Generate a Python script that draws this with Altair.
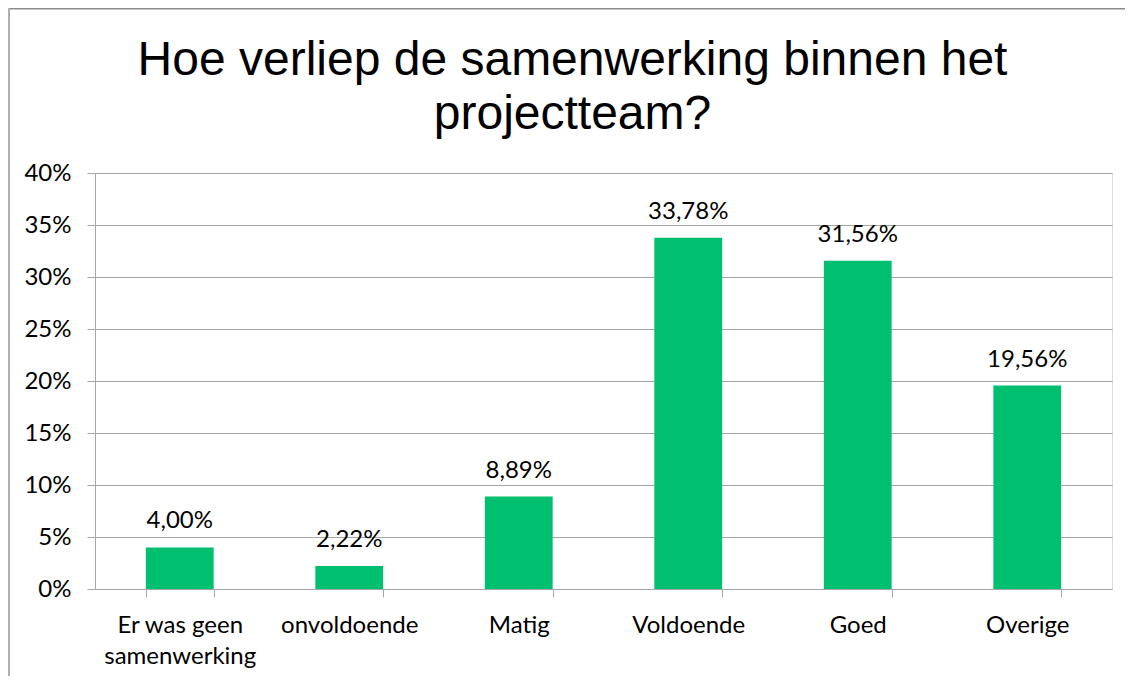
import altair as alt
import pandas as pd

categories = ["Er was geen samenwerking", "onvoldoende", "Matig", "Voldoende", "Goed", "Overige"]
values = [0.0400, 0.0222, 0.0889, 0.3378, 0.3156, 0.1956]
y_ticks = [0, 0.05, 0.10, 0.15, 0.20, 0.25, 0.30, 0.35, 0.40]

df = pd.DataFrame({"cat": categories, "val": values})

W, H = 1017, 416
PAD_L, PAD_T, PAD_R, PAD_B = 87, 165, 13, 87

LABEL_FONT = "Lato"
GRAY = "#A6A6A6"

x_enc = alt.X(
    "cat:N",
    sort=categories,
    scale=alt.Scale(paddingInner=0.6, paddingOuter=0.3),
    axis=alt.Axis(
        title=None,
        labelAngle=0,
        labelFont=LABEL_FONT,
        labelFontSize=24,
        labelColor="#000000",
        labelPadding=16,
        labelLineHeight=31,
        labelExpr="datum.label == 'Er was geen samenwerking' ? ['Er was geen', 'samenwerking'] : datum.label",
        tickBand="extent",
        tickSize=8,
        tickColor=GRAY,
        domainColor=GRAY,
        grid=False,
    ),
)
y_enc = alt.Y(
    "val:Q",
    scale=alt.Scale(domain=[0, 0.4], nice=False),
    axis=alt.Axis(
        title=None,
        values=y_ticks,
        format=".0%",
        labelFont=LABEL_FONT,
        labelFontSize=24,
        labelColor="#000000",
        labelPadding=16,
        tickSize=8,
        tickColor=GRAY,
        domainColor=GRAY,
        gridColor=GRAY,
        gridWidth=1,
    ),
)

bars = alt.Chart(df).mark_bar(color="#00BF6F").encode(x=x_enc, y=y_enc)

labels = alt.Chart(df).mark_text(
    font=LABEL_FONT, fontSize=24, color="#000000", baseline="alphabetic", dy=-19
).encode(
    x=alt.X("cat:N", sort=categories),
    y="val:Q",
    text=alt.Text("val:Q", format=".2%"),
)

frame_df = pd.DataFrame({"k": [0]})
frame_top = alt.Chart(frame_df).mark_rule(color="#8C8C8C", strokeWidth=1.5).encode(
    x=alt.value(-PAD_L + 0.5), x2=alt.value(W + PAD_R), y=alt.value(-PAD_T + 0.75)
)
frame_left = alt.Chart(frame_df).mark_rule(color="#B0B0B0", strokeWidth=2).encode(
    x=alt.value(-PAD_L + 1), y=alt.value(-PAD_T), y2=alt.value(H + PAD_B)
)

chart = (
    alt.layer(bars, labels, frame_top, frame_left)
    .properties(
        width=W,
        height=H,
        autosize=alt.AutoSizeParams(type="none"),
        padding={"left": PAD_L, "top": PAD_T, "right": PAD_R, "bottom": PAD_B},
        title=alt.TitleParams(
            text=["Hoe verliep de samenwerking binnen het", "projectteam?"],
            font="Liberation Sans",
            fontSize=48,
            fontWeight="normal",
            color="#000000",
            lineHeight=54,
            anchor="middle",
            baseline="alphabetic",
            dx=-31,
            dy=170,
            offset=0,
        ),
    )
    .configure_view(stroke=None)
    .configure(
        locale={
            "number": {
                "decimal": ",",
                "thousands": ".",
                "grouping": [3],
                "currency": ["€", ""],
            }
        }
    )
)

chart.save("out.html", embed_options={"renderer": "svg", "actions": False})
